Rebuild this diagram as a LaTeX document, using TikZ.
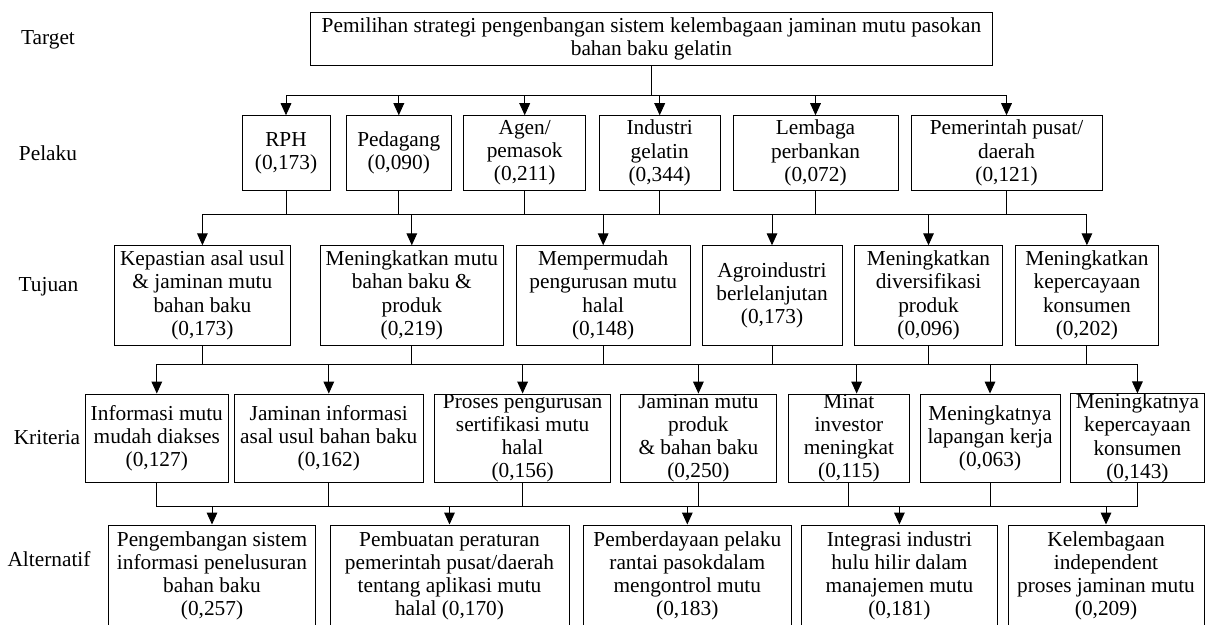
\documentclass[tikz,border=0pt]{standalone}
\usepackage{fontspec}
\setmainfont{Liberation Serif}
\usetikzlibrary{arrows.meta}
\begin{document}
\begin{tikzpicture}[x=0.75pt,y=-0.75pt,
  txt/.style={font=\fontsize{16}{17.4}\selectfont},
  box/.style 2 args={draw, line width=0.75pt, minimum width=#1*0.75pt, minimum height=#2*0.75pt,
    inner sep=0pt, align=center, txt},
  lbl/.style={txt, inner sep=0pt},
  conn/.style={line width=0.75pt},
  arr/.style={line width=0.75pt, -{Triangle[length=9pt,width=8pt]}}]
\clip (0,0) rectangle (1205,624);

% row labels
\node[lbl] (LT) at (48,40) {Target};
\node[lbl] (LP) at (48,153) {Pelaku};
\node[lbl] (LU) at (48.5,287) {Tujuan};
\node[lbl] (LK) at (47,438) {Kriteria};
\node[lbl] (LA) at (49,559) {Alternatif};

% target
\node[box={682.7}{52.3}] (T) at (651.4,38.9) {Pemilihan strategi pengenbangan sistem kelembagaan jaminan mutu pasokan\\bahan baku gelatin};

% pelaku
\node[box={88}{74.3}]    (P1) at (286,152.9)   {RPH\\(0,173)};
\node[box={105.6}{74.3}] (P2) at (398.8,152.9) {Pedagang\\(0,090)};
\node[box={121.7}{74.3}] (P3) at (524.7,152.9) {Agen/\\pemasok\\(0,211)};
\node[box={121.4}{74.3}] (P4) at (659.7,152.9) {Industri\\gelatin\\(0,344)};
\node[box={165}{74.3}]   (P5) at (815.5,152.9) {Lembaga\\perbankan\\(0,072)};
\node[box={191}{74.3}]   (P6) at (1006.5,152.9) {Pemerintah pusat/\\daerah\\(0,121)};

% tujuan
\node[box={176.8}{99.3}] (U1) at (202.4,295.4) {Kepastian asal usul\\\& jaminan mutu\\bahan baku\\(0,173)};
\node[box={183.6}{99.3}] (U2) at (411.8,295.4) {Meningkatkan mutu\\bahan baku \&\\produk\\(0,219)};
\node[box={173.7}{99.3}] (U3) at (603.2,295.4) {Mempermudah\\pengurusan mutu\\halal\\(0,148)};
\node[box={140}{99.3}]   (U4) at (772,295.4)   {Agroindustri\\berlelanjutan\\(0,173)};
\node[box={147.8}{99.3}] (U5) at (928.5,295.4) {Meningkatkan\\diversifikasi\\produk\\(0,096)};
\node[box={142.8}{99.3}] (U6) at (1086.9,295.4) {Meningkatkan\\kepercayaan\\konsumen\\(0,202)};

% kriteria
\node[box={143.5}{88.7}] (K1) at (156.8,438.4) {Informasi mutu\\mudah diakses\\(0,127)};
\node[box={189.6}{88.7}] (K2) at (328.8,438.4) {Jaminan informasi\\asal usul bahan baku\\(0,162)};
\node[box={176.4}{88.7}] (K3) at (522.6,438.4) {Proses pengurusan\\sertifikasi mutu\\halal\\(0,156)};
\node[box={156.7}{88.7}] (K4) at (698.4,438.4) {Jaminan mutu\\produk\\\& bahan baku\\(0,250)};
\node[box={121.8}{88.7}] (K5) at (848.9,438.4) {Minat\\investor\\meningkat\\(0,115)};
\node[box={140}{88.7}]   (K6) at (990,438.4)   {Meningkatnya\\lapangan kerja\\(0,063)};
\node[box={133.3}{88.7}] (K7) at (1137.4,438.4) {Meningkatnya\\kepercayaan\\konsumen\\(0,143)};

% alternatif
\node[box={207.4}{102}] (A1) at (212,576)    {Pengembangan sistem\\informasi penelusuran\\bahan baku\\(0,257)};
\node[box={239}{102}]   (A2) at (449.5,576)  {Pembuatan peraturan\\pemerintah pusat/daerah\\tentang aplikasi mutu\\halal (0,170)};
\node[box={207.4}{102}] (A3) at (687.3,576)  {Pemberdayaan pelaku\\rantai pasokdalam\\mengontrol mutu\\(0,183)};
\node[box={196}{102}]   (A4) at (899.4,576)  {Integrasi industri\\hulu hilir dalam\\manajemen mutu\\(0,181)};
\node[box={196}{102}]   (A5) at (1106,576)   {Kelembagaan\\independent\\proses jaminan mutu\\(0,209)};

% bus levels
\coordinate (b1) at (0,95.7);
\coordinate (b2) at (0,214.3);
\coordinate (b3) at (0,364.3);
\coordinate (b4) at (0,506.7);

% target -> pelaku
\draw[conn, line width=1.3pt] (T.south) -- (T.south |- b1);
\draw[conn] (P1.north |- b1) -- (P6.north |- b1);
\foreach \n in {P1,P2,P3,P4,P5,P6} \draw[arr] (\n.north |- b1) -- (\n.north);

% pelaku -> tujuan
\foreach \n in {P1,P2,P3,P4,P5,P6} \draw[conn] (\n.south) -- (\n.south |- b2);
\draw[conn] (U1.north |- b2) -- (U6.north |- b2);
\foreach \n in {U1,U2,U3,U4,U5,U6} \draw[arr] (\n.north |- b2) -- (\n.north);

% tujuan -> kriteria
\foreach \n in {U1,U2,U3,U4,U5,U6} \draw[conn] (\n.south) -- (\n.south |- b3);
\draw[conn] (K1.north |- b3) -- (K7.north |- b3);
\foreach \n in {K1,K2,K3,K4,K6,K7} \draw[arr] (\n.north |- b3) -- (\n.north);
\coordinate (k5t) at ([xshift=5.8pt]K5.north);
\draw[arr] (k5t |- b3) -- (k5t);

% kriteria -> alternatif
\foreach \n in {K1,K2,K3,K4,K5,K6,K7} \draw[conn] (\n.south) -- (\n.south |- b4);
\draw[conn, line width=1.1pt] (K1.south |- b4) -- (K7.south |- b4);
\foreach \n in {A1,A2,A3,A4,A5} \draw[arr] (\n.north |- b4) -- (\n.north);
\end{tikzpicture}
\end{document}
